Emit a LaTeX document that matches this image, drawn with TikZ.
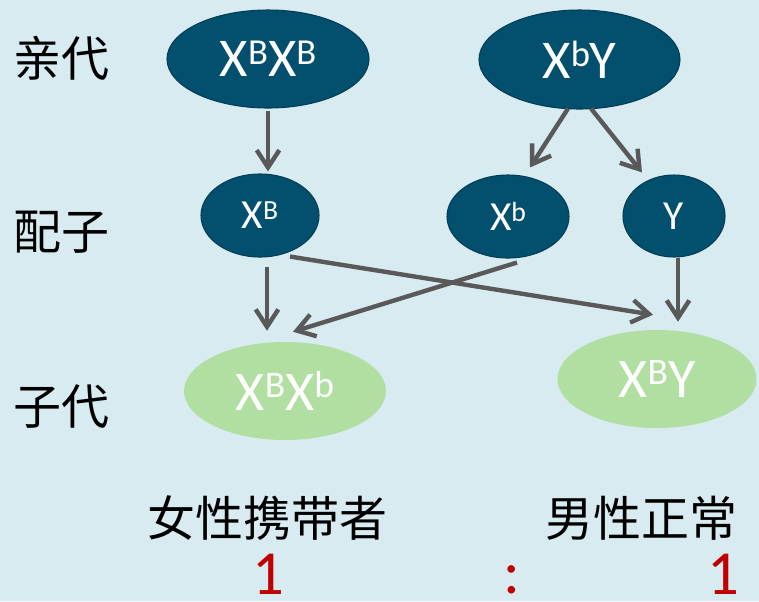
\documentclass[tikz,border=0pt]{standalone}
\usepackage{fontspec}
\usepackage{graphicx}
\setmainfont{Carlito}
\newfontfamily\cjk{Noto Sans CJK SC}
\usetikzlibrary{shapes.geometric,arrows.meta,calc}
\definecolor{bg}{HTML}{D7EBF1}
\definecolor{navy}{HTML}{024F6E}
\definecolor{navyedge}{HTML}{023E56}
\definecolor{leaf}{HTML}{B1DEA1}
\definecolor{arrowgray}{HTML}{595959}
\definecolor{ratiored}{HTML}{C00000}
\newcommand\sps[1]{\raisebox{0.22em}{\scalebox{0.67}{#1}}}
\begin{document}
\begin{tikzpicture}[x=0.75pt,y=-0.75pt,
 parent/.style={ellipse,fill=navy,draw=navyedge,line width=0.8pt,inner sep=0pt,text=white,font=\fontsize{41}{46}\selectfont},
 gamete/.style={parent,font=\fontsize{31}{35}\selectfont},
 child/.style={ellipse,fill=leaf,inner sep=0pt,text=white,font=\fontsize{42}{47}\selectfont},
 rowlabel/.style={font=\cjk\fontsize{36}{40}\selectfont,text=black,inner sep=0pt},
 ratio/.style={font=\fontsize{47}{52}\selectfont,text=ratiored,inner sep=0pt},
 arr/.style={draw=arrowgray,line width=3.3pt,-{Straight Barb[length=13pt,width=17pt]}}]
\fill[bg] (0,0) rectangle (759,601);
\useasboundingbox (0,0) rectangle (759,601);
% parents
\node[parent,minimum width=151.5pt,minimum height=73.5pt] (P1) at (268,59) {X\sps{B}X\sps{B}};
\node[parent,minimum width=150.75pt,minimum height=74.25pt] (P2) at (579.5,59.5) {X\sps{b}Y};
% gametes
\node[gamete,minimum width=88.5pt,minimum height=62.25pt] (G1) at (260,215.5) {X\sps{B}};
\node[gamete,minimum width=91.5pt,minimum height=62.25pt] (G2) at (508,216.5) {X\sps{b}};
\node[gamete,minimum width=76.5pt,minimum height=61.5pt] (G3) at (674,216) {Y};
% children
\node[child,minimum width=151.5pt,minimum height=73.5pt] (C1) at (285,391) {X\sps{B}X\sps{b}};
\node[child,minimum width=149.25pt,minimum height=73.5pt] (C2) at (657,379) {X\sps{B}Y};
% row labels
\node[rowlabel] (L1) at (61,58) {亲代};
\node[rowlabel] (L2) at (61,232) {配子};
\node[rowlabel] (L3) at (61,407) {子代};
\node[rowlabel] (T1) at (267,518) {女性携带者};
\node[rowlabel] (T2) at (641,518) {男性正常};
% ratio
\node[ratio] (R1) at (268,574) {1};
\node[ratio] (R2) at (512,580) {:};
\node[ratio] (R3) at (723,574) {1};
% arrows
\draw[arr] ($(P1.south)+(0,2)$) -- ($(G1.north)+(8,-2)$);
\draw[arr] ($(P2.south)+(-11.5,-1)$) -- ($(G2.north)+(22,-7)$);
\draw[arr] ($(P2.south)+(11.5,-1)$) -- ($(G3.north)+(-32,-2)$);
\draw[arr] ($(G1.south)+(7,9)$) -- ($(C1.north)+(-18,-11)$);
\draw[arr] ($(G1.south)+(30,-1)$) -- ($(C2.north)+(-4,-15)$);
\draw[arr] ($(G2.south)+(9,4)$) -- ($(C1.north)+(8,-10)$);
\draw[arr] ($(G3.south)+(4,0)$) -- ($(C2.north)+(21,-8)$);
\end{tikzpicture}
\end{document}
